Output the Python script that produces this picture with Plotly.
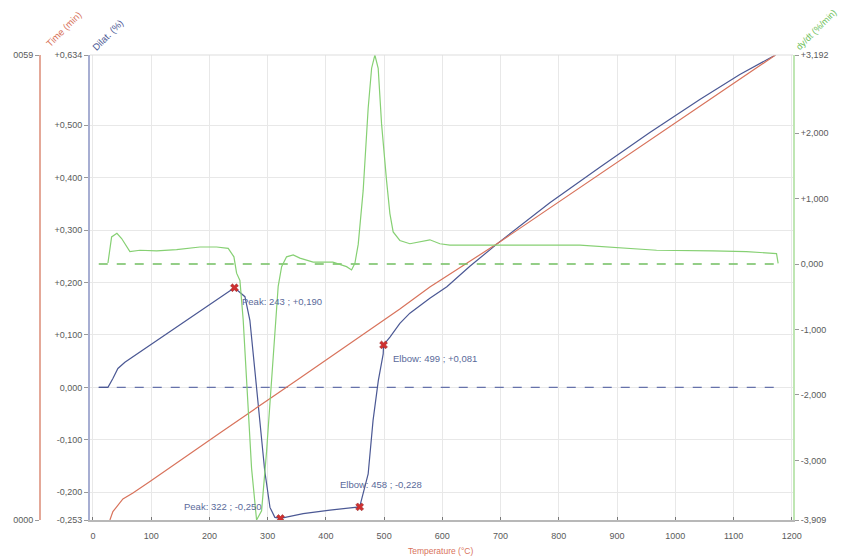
import plotly.graph_objects as go

# ---------------- data ----------------
# Dilatation (%) vs temperature (°C)
dil_T = [10, 25.8, 34.3, 42.9, 54.9, 149, 243, 261, 269.5, 278, 286.7, 295, 304, 312.4, 322,
         361, 407, 435.5, 458, 472.6, 481, 490, 498.4, 499, 510, 527, 544.2, 578.5, 607.7,
         647.2, 698.7, 784.5, 870.4, 956.2, 1042, 1110.7, 1172]
dil_v = [0.0, 0.0, 0.017, 0.036, 0.048, 0.119, 0.190, 0.173, 0.128, 0.033, -0.063, -0.159,
         -0.229, -0.248, -0.250, -0.241, -0.234, -0.231, -0.228, -0.165, -0.063, 0.013, 0.064,
         0.081, 0.096, 0.122, 0.1415, 0.170, 0.192, 0.231, 0.278, 0.352, 0.420, 0.486, 0.549,
         0.597, 0.634]

# Time (min) vs temperature (°C)
time_T = [29.2, 34.3, 51.5, 68.7, 97.9, 218, 355, 527, 578.5, 699, 1172]
time_v = [0.0, 1.06, 2.68, 3.44, 4.88, 11.05, 17.97, 26.76, 29.56, 35.3, 59.0]

# Derivative dy/dt vs temperature (°C)
der_T = [25.8, 32.1, 41.2, 49.3, 63.5, 80.7, 109.4, 143.7, 183.7, 212.4, 232.3, 242.1, 246.7,
         252.4, 258, 263.9, 272.4, 281, 289.6, 298.2, 309.5, 318.1, 324, 332.5, 343.9, 355.4,
         378.2, 412, 435.5, 444.1, 449.8, 455.5, 464, 472.6, 478.5, 484.1, 489.8, 495.6, 504.2,
         509.9, 515.5, 527, 544.2, 561.4, 578.5, 595.7, 612.9, 836, 967.7, 1064, 1122, 1173.7,
         1176.5]
der_v = [0.015, 0.414, 0.47, 0.39, 0.19, 0.21, 0.20, 0.22, 0.26, 0.26, 0.24, 0.11, -0.14,
         -0.25, -0.85, -1.86, -3.12, -3.909, -3.77, -2.86, -1.35, -0.34, -0.04, 0.11, 0.14, 0.09,
         0.03, 0.03, -0.04, -0.09, 0.01, 0.30, 1.12, 2.38, 2.99, 3.192, 2.99, 2.14, 1.27, 0.77,
         0.49, 0.36, 0.31, 0.34, 0.37, 0.31, 0.29, 0.29, 0.21, 0.20, 0.19, 0.16, 0.01]

# Marked points
mark_T = [243, 322, 458, 499]
mark_v = [0.190, -0.250, -0.228, 0.081]
mark_lbl = ["Peak: 243 ; +0,190", "Peak: 322 ; -0,250", "Elbow: 458 ; -0,228", "Elbow: 499 ; +0,081"]

x_ticks = [0, 100, 200, 300, 400, 500, 600, 700, 800, 900, 1000, 1100, 1200]
dil_ticks = [0.634, 0.5, 0.4, 0.3, 0.2, 0.1, 0.0, -0.1, -0.2, -0.253]
dil_ticktext = ["+0,634", "+0,500", "+0,400", "+0,300", "+0,200", "+0,100", "0,000", "-0,100", "-0,200", "-0,253"]
der_ticks = [3.192, 2.0, 1.0, 0.0, -1.0, -2.0, -3.0, -3.909]
der_ticktext = ["+3,192", "+2,000", "+1,000", "0,000", "-1,000", "-2,000", "-3,000", "-3,909"]
time_ticks = [0, 59]
time_ticktext = ["0000", "0059"]
dash_span = [10, 1172]

# ---------------- style ----------------
RED = "#d8735c"
BLUE = "#4b5894"
GREEN = "#86d073"
GRID = "#e8e8e8"
TXT = "#5a5a5a"
FONT = "Liberation Sans"
FS = 9

fig = go.Figure()

# dashed zero lines
fig.add_trace(go.Scatter(x=dash_span, y=[0, 0], mode="lines", yaxis="y3",
                         line=dict(color="#72bf60", width=1.3, dash="dash"), showlegend=False))
fig.add_trace(go.Scatter(x=dash_span, y=[0, 0], mode="lines", yaxis="y",
                         line=dict(color="#6672aa", width=1.3, dash="dash"), showlegend=False))

fig.add_trace(go.Scatter(x=der_T, y=der_v, mode="lines", yaxis="y3",
                         line=dict(color=GREEN, width=1.2), showlegend=False))
fig.add_trace(go.Scatter(x=time_T, y=time_v, mode="lines", yaxis="y2",
                         line=dict(color=RED, width=1.2), showlegend=False))
fig.add_trace(go.Scatter(x=dil_T, y=dil_v, mode="lines", yaxis="y",
                         line=dict(color=BLUE, width=1.2), showlegend=False))
fig.add_trace(go.Scatter(x=mark_T, y=mark_v, mode="markers", yaxis="y",
                         marker=dict(symbol="x", size=7, color="#d03030",
                                     line=dict(color="#902020", width=0.5)),
                         showlegend=False))

# marker labels
offsets = [(6, -14, "left"), (-16, 12, "right"), (21, 22, "center"), (7, -14, "left")]
for t, v, lbl, (dx, dy, xa) in zip(mark_T, mark_v, mark_lbl, offsets):
    fig.add_annotation(x=t, y=v, xref="x", yref="y", text=lbl, showarrow=False,
                       xanchor=xa, yanchor="middle", xshift=dx, yshift=dy,
                       font=dict(family=FONT, size=9.5, color="#5a6a9a"))

# page body has an 8px margin -> figure sits at (8, 8)
OFF = 8
W, H = 841, 550
L, R, T_, B = 2, 56, 47, 38
pw = W - L - R
ph = H - T_ - B


def px(xp):
    return (xp - OFF - L) / pw


def py(yp):
    return (H - B - (yp - OFF)) / ph


fig.update_layout(
    width=W, height=H,
    margin=dict(l=L, r=R, t=T_, b=B, autoexpand=False),
    paper_bgcolor="white", plot_bgcolor="white",
    font=dict(family=FONT, size=FS, color=TXT),
    xaxis=dict(domain=[px(90), 1], range=[-5, 1202], tickvals=x_ticks,
               showgrid=True, gridcolor=GRID, gridwidth=1, zeroline=False,
               showline=True, linecolor="#b8b8b8", linewidth=2, mirror=False,
               ticks="inside", ticklen=3, tickcolor="#777777", ticklabelstandoff=6,
               tickfont=dict(family=FONT, size=FS, color=TXT)),
    yaxis=dict(range=[-0.253, 0.634], tickvals=dil_ticks, ticktext=dil_ticktext,
               showgrid=True, gridcolor=GRID, zeroline=False,
               showline=True, linecolor="#a7aed2", linewidth=2,
               ticks="outside", ticklen=4, tickcolor="#999999",
               tickfont=dict(family=FONT, size=FS, color=TXT)),
    yaxis2=dict(range=[0, 59], tickvals=time_ticks, ticktext=time_ticktext,
                overlaying="y", anchor="free", position=px(40), side="left",
                showgrid=False, zeroline=False,
                showline=True, linecolor="#e4a898", linewidth=2,
                ticks="outside", ticklen=4, tickcolor="#999999",
                tickfont=dict(family=FONT, size=FS, color=TXT)),
    yaxis3=dict(range=[-3.909, 3.192], tickvals=der_ticks, ticktext=der_ticktext,
                overlaying="y", anchor="x", side="right",
                showgrid=False, zeroline=False,
                showline=True, linecolor="#bfe6b3", linewidth=2,
                ticks="outside", ticklen=4, tickcolor="#999999",
                tickfont=dict(family=FONT, size=FS, color=TXT)),
)

# top border
fig.add_shape(type="line", xref="paper", yref="paper", x0=px(90), x1=1, y0=1, y1=1,
              line=dict(color="#dddddd", width=1))

# axis titles (diagonal)
fig.add_annotation(xref="paper", yref="paper", x=px(63), y=py(29), text="Time (min)",
                   textangle=-45, showarrow=False, xanchor="center", yanchor="middle",
                   font=dict(family=FONT, size=9.5, color=RED))
fig.add_annotation(xref="paper", yref="paper", x=px(107), y=py(35), text="Dilat. (%)",
                   textangle=-45, showarrow=False, xanchor="center", yanchor="middle",
                   font=dict(family=FONT, size=9.5, color=BLUE))
fig.add_annotation(xref="paper", yref="paper", x=px(816), y=py(30), text="dy/dt (%/min)",
                   textangle=-45, showarrow=False, xanchor="center", yanchor="middle",
                   font=dict(family=FONT, size=9, color="#6cc05a"))
fig.add_annotation(xref="paper", yref="paper", x=px(440), y=py(551), text="Temperature (°C)",
                   showarrow=False, xanchor="center", yanchor="middle",
                   font=dict(family=FONT, size=8.5, color=RED))

fig.write_html("out.html")
